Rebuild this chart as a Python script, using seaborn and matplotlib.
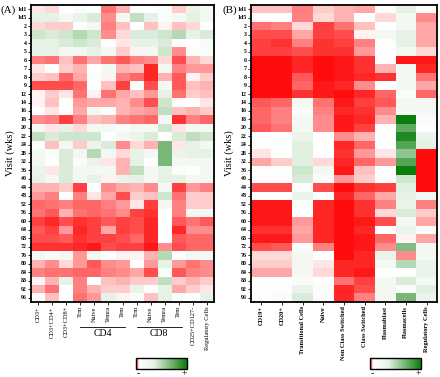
import numpy as np
import pandas as pd
import seaborn as sns
import matplotlib.pyplot as plt
from matplotlib.colors import LinearSegmentedColormap, Normalize
from matplotlib.cm import ScalarMappable

visits = ['1d1', '1d5', '2', '3', '4', '5', '6', '7', '8', '9', '12', '14', '16', '18', '20',
          '22', '24', '28', '32', '36', '40', '44', '48', '52', '56', '60', '64', '68', '72',
          '76', '80', '84', '88', '92', '96']

t_cols = ['CD3+', 'CD3+CD4+', 'CD3+CD8+', 'Tcm', 'Naive', 'Temra', 'Tem',
          'Tcm', 'Naive', 'Temra', 'Tem', 'CD25+CD127-', 'Regulatory Cells']
b_cols = ['CD19+', 'CD20+', 'Transitional Cells', 'Naive', 'Non Class Switched',
          'Class Switched', 'Plasmablast', 'Plasmacells', 'Regulatory Cells']

# -1 = strong decrease (red), +1 = strong increase (green)
t_vals = [
    [-0.1, -0.15, 0, 0.02, 0, -0.55, -0.3, 0, 0, 0.02, -0.2, 0.08, 0.05],
    [0.1, 0.1, 0.05, 0.08, 0.15, -0.45, 0.05, 0.25, 0.1, 0.02, 0.05, 0.1, 0.05],
    [-0.15, -0.2, -0.2, 0, 0.05, -0.5, -0.25, 0, -0.25, -0.05, -0.25, -0.15, 0],
    [0.2, 0.15, 0.2, 0.3, 0.2, -0.45, -0.15, 0.15, 0.15, 0.2, 0.3, 0.1, 0.15],
    [0.1, 0.1, 0.15, 0.2, 0.15, 0, -0.1, 0.1, 0.1, 0.15, 0, 0, 0.03],
    [0.1, 0.1, 0.05, 0.05, 0.1, 0.05, -0.2, -0.05, 0.05, 0.2, -0.45, 0.02, 0.02],
    [-0.5, -0.55, -0.25, -0.55, -0.35, -0.55, -0.65, -0.5, -0.45, -0.15, -0.7, -0.3, -0.15],
    [-0.1, 0, -0.2, -0.3, 0, 0.05, -0.3, -0.25, -0.85, 0.05, -0.5, -0.4, -0.4],
    [-0.2, -0.25, -0.6, -0.35, 0.02, -0.05, -0.5, -0.6, -0.85, -0.3, -0.65, -0.05, -0.2],
    [-0.7, -0.7, -0.7, -0.6, 0, -0.25, -0.75, 0.02, -0.7, 0.05, -0.65, -0.25, -0.3],
    [-0.05, -0.2, -0.1, -0.55, -0.05, -0.55, -0.35, -0.25, -0.4, 0.1, -0.55, -0.2, -0.25],
    [-0.05, -0.25, 0, -0.4, -0.35, -0.35, -0.3, -0.45, -0.7, 0.2, 0, 0, -0.1],
    [0, -0.1, 0, -0.35, 0.05, 0.02, -0.3, -0.35, -0.4, 0.25, -0.25, -0.3, -0.2],
    [-0.45, -0.5, -0.75, -0.5, -0.25, -0.3, -0.5, -0.55, -0.6, 0.05, -0.8, -0.5, -0.6],
    [0.05, -0.1, 0.1, -0.15, 0.05, 0.05, 0.02, 0.05, 0.05, 0.2, -0.1, 0.05, 0.05],
    [0.25, 0.15, 0.2, 0.2, 0.2, 0, 0.05, 0.08, 0.15, 0, 0.15, 0.25, 0.2],
    [0, -0.25, 0.05, -0.2, 0.08, 0.15, -0.45, -0.15, -0.3, 0.55, -0.1, 0.1, 0.05],
    [0.05, 0.02, 0.15, 0.05, 0.3, 0.05, -0.15, 0.1, 0.05, 0.55, 0.08, 0.1, 0.1],
    [0.05, 0, 0.15, 0.02, 0.08, -0.1, -0.3, 0.1, 0, 0.55, 0.05, 0.05, 0.05],
    [0.08, -0.1, 0.15, 0.05, 0.05, 0.05, -0.3, 0.25, 0.05, 0.1, 0.02, 0, 0.05],
    [0.1, 0.05, 0.15, 0.05, 0.1, -0.05, 0.08, 0.1, 0.05, 0.1, 0.1, 0.05, 0.05],
    [-0.3, -0.3, -0.2, -0.75, 0, -0.45, -0.35, -0.3, -0.45, 0.05, -0.75, -0.4, -0.5],
    [-0.4, -0.5, 0, -0.5, -0.1, -0.35, -0.7, -0.2, -0.25, 0.2, -0.55, -0.2, -0.2],
    [-0.6, -0.55, -0.5, -0.6, -0.6, -0.5, -0.4, -0.1, -0.75, 0.05, -0.5, -0.2, -0.2],
    [-0.55, -0.65, -0.3, -0.55, -0.6, -0.55, -0.45, -0.75, -0.8, 0, -0.5, 0.05, 0.05],
    [-0.75, -0.85, -0.7, -0.8, -0.75, -0.65, -0.75, -0.7, -0.85, 0, -0.65, -0.55, -0.65],
    [-0.65, -0.75, -0.4, -0.85, -0.75, -0.35, -0.75, -0.7, -0.85, 0, -0.85, -0.45, -0.45],
    [-0.7, -0.7, -0.65, -0.8, -0.75, -0.75, -0.7, -0.6, -0.85, 0, -0.65, -0.6, -0.6],
    [-0.8, -0.8, -0.8, -0.85, -0.9, -0.7, -0.75, -0.75, -0.9, -0.45, -0.7, -0.6, -0.6],
    [0.05, 0.02, 0.05, -0.4, 0.05, 0, -0.05, -0.05, -0.3, 0.3, 0, 0.05, 0.05],
    [-0.3, -0.45, -0.15, -0.4, -0.65, -0.45, -0.4, 0, -0.4, 0.1, -0.4, -0.55, -0.45],
    [-0.5, -0.55, -0.55, -0.6, -0.6, -0.5, -0.45, -0.35, -0.7, 0.02, -0.65, -0.5, -0.45],
    [-0.05, -0.3, 0.1, -0.5, 0, -0.25, -0.3, -0.2, -0.2, 0.25, -0.2, -0.3, -0.2],
    [-0.3, -0.55, 0, -0.5, -0.3, -0.2, -0.2, 0.08, 0, 0.1, -0.35, -0.2, -0.1],
    [0, -0.25, 0, -0.55, -0.4, 0.1, -0.05, 0.02, -0.25, 0.1, 0.02, 0, 0.1],
]

b_vals = [
    [-0.25, -0.25, -0.5, -0.2, -0.3, -0.35, 0, 0.1, 0],
    [0, 0, -0.5, -0.15, -0.3, 0, -0.15, 0.05, -0.45],
    [-0.55, -0.5, -0.15, -0.75, -0.55, -0.25, 0, 0.05, -0.35],
    [-0.7, -0.7, -0.35, -0.75, -0.7, -0.05, 0.05, 0.1, -0.35],
    [-0.75, -0.8, -0.5, -0.8, -0.75, -0.5, 0, 0.1, -0.35],
    [-0.75, -0.75, -0.7, -0.8, -0.8, -0.4, 0, 0.05, -0.15],
    [-0.95, -0.95, -0.85, -0.95, -0.9, -0.8, 0, -0.9, -0.9],
    [-0.95, -0.95, -0.85, -0.95, -0.9, -0.8, -0.3, 0.05, -0.85],
    [-0.95, -0.95, -0.65, -0.95, -0.9, -0.85, -0.8, 0.05, -0.55],
    [-0.95, -0.95, -0.6, -0.9, -0.85, -0.45, 0, 0.05, -0.35],
    [-0.95, -0.95, -0.8, -0.9, -0.95, -0.85, -0.6, 0.02, -0.6],
    [-0.65, -0.6, 0.05, -0.55, -0.9, -0.75, -0.65, 0.05, 0.05],
    [-0.6, -0.5, 0.02, -0.5, -0.85, -0.8, -0.45, 0.05, 0.05],
    [-0.6, -0.5, 0.05, -0.45, -0.9, -0.85, -0.3, 1.0, 0.02],
    [-0.65, -0.55, 0.05, -0.45, -0.9, -0.75, 0, 0.65, 0],
    [0, 0, 0.08, 0, -0.45, -0.3, 0, 0.9, 0.08],
    [0, 0, 0.12, 0, -0.85, -0.6, 0, 0.7, 0.1],
    [-0.1, 0, 0.12, 0, -0.8, -0.4, -0.1, 0.45, -0.95],
    [-0.35, -0.2, 0.12, -0.15, -0.85, -0.6, -0.4, 0.7, -0.95],
    [0, 0, 0.2, 0.05, -0.9, -0.25, 0, 1.0, -0.95],
    [0, 0, 0.15, 0.02, -0.4, -0.2, 0, 0.2, -0.95],
    [-0.7, -0.7, 0.02, -0.7, -0.95, -0.8, -0.75, 0.12, -0.95],
    [0, 0, 0.08, 0, -0.85, -0.6, -0.35, 0.1, 0.05],
    [-0.9, -0.9, 0.02, -0.85, -0.95, -0.8, -0.5, 0.08, -0.5],
    [-0.9, -0.9, 0, -0.85, -0.95, -0.8, -0.15, 0.15, -0.2],
    [-0.9, -0.9, -0.4, -0.85, -0.95, -0.9, -0.7, 0.05, -0.35],
    [-0.8, -0.8, -0.35, -0.85, -0.95, -0.85, 0, 0.08, 0.02],
    [-0.9, -0.9, -0.4, -0.85, -0.95, -0.9, -0.6, -0.05, -0.35],
    [-0.7, -0.65, 0.02, -0.5, -0.95, -0.9, -0.45, 0.5, 0.05],
    [-0.15, -0.15, 0.05, 0, -0.95, -0.85, 0.08, -0.45, 0.05],
    [-0.2, -0.2, 0.05, -0.1, -0.85, -0.85, 0.05, 0.3, 0.08],
    [-0.35, -0.35, 0.05, -0.15, -0.85, -0.9, 0, 0, 0.08],
    [0, 0, 0.02, 0, -0.55, -0.75, 0.05, 0.15, 0.05],
    [0, 0, 0.08, 0.02, -0.85, -0.7, 0.05, 0.02, 0.12],
    [0, 0.02, 0.15, 0.02, -0.85, -0.5, 0.05, 0.55, 0.08],
]

plt.rcParams['font.family'] = ['Liberation Serif', 'DejaVu Serif']

cmap = LinearSegmentedColormap.from_list('rwg', ['#ff0000', '#ffffff', '#0a7d0a'])
bar_cmap = LinearSegmentedColormap.from_list(
    'bar', [(0, '#ff0000'), (0.06, '#ffffff'), (0.35, '#e8f2e8'), (1, '#0a7d0a')])

fig = plt.figure(figsize=(4.4, 3.77), dpi=100)
ax_a = fig.add_axes([0.0705, 0.199, 0.416, 0.788])
ax_b = fig.add_axes([0.570, 0.199, 0.423, 0.788])

df_a = pd.DataFrame(t_vals, index=visits)
df_b = pd.DataFrame(b_vals, index=visits)

for ax, df, cols, weight in [(ax_a, df_a, t_cols, 'normal'), (ax_b, df_b, b_cols, 'bold')]:
    sns.heatmap(df, ax=ax, cmap=cmap, vmin=-1, vmax=1, cbar=False)
    ax.set_xticks(np.arange(len(cols)) + 0.5)
    ax.set_xticklabels(cols, rotation=90, fontsize=4.6, fontweight=weight)
    ax.set_yticks(np.arange(len(visits)) + 0.5)
    ax.set_yticklabels(visits, rotation=0, fontsize=4.2, fontweight='bold')
    ax.tick_params(length=2, width=0.6, pad=1)
    ax.set_ylabel('Visit (wks)', fontsize=7.5, labelpad=2)
    for s in ax.spines.values():
        s.set_visible(True)
        s.set_linewidth(1.3)

# group brackets under the CD4 / CD8 columns
trans = ax_a.get_xaxis_transform()
for lo, hi, name in [(3.5, 6.7, 'CD4'), (7.5, 10.7, 'CD8')]:
    ax_a.plot([lo, hi], [-0.084, -0.084], color='black', lw=0.6,
              transform=trans, clip_on=False)
    ax_a.text((lo + hi) / 2, -0.092, name, transform=trans, ha='center', va='top',
              fontsize=7)

fig.text(0.002, 0.985, '(A)', fontsize=8, va='top')
fig.text(0.505, 0.985, '(B)', fontsize=8, va='top')

for x0 in [0.309, 0.841]:
    cax = fig.add_axes([x0, 0.021, 0.116, 0.030])
    cb = fig.colorbar(ScalarMappable(norm=Normalize(-1, 1), cmap=bar_cmap),
                      cax=cax, orientation='horizontal')
    cb.set_ticks([-0.9, 0.9])
    cb.set_ticklabels(['-', '+'])
    cb.ax.tick_params(labelsize=7, length=0, pad=0)
    cb.outline.set_linewidth(1.0)

fig.savefig('out.png', dpi=100)
